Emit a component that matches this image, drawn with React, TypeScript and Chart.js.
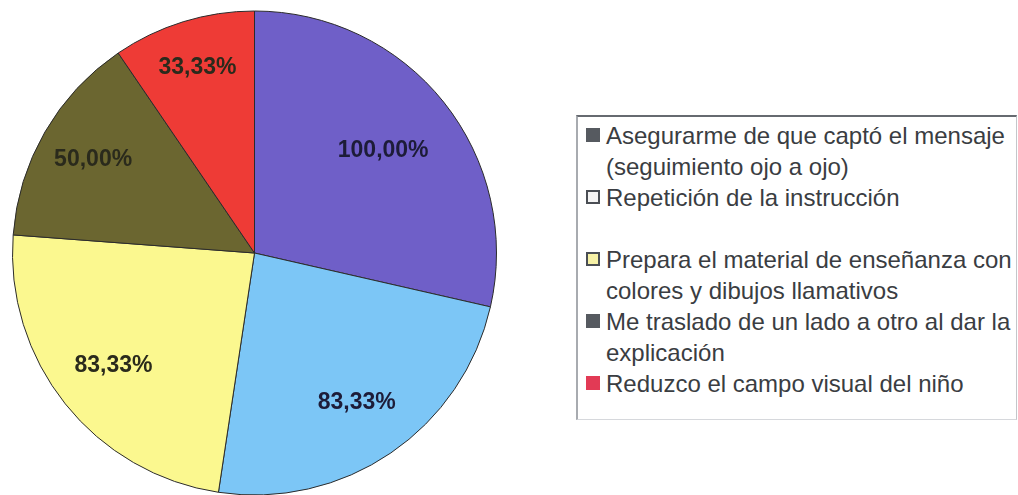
import React, { useEffect, useRef } from "react";
import { Chart, registerables } from "chart.js";

Chart.register(...registerables);

const categories = [
  "Asegurarme de que captó el mensaje (seguimiento ojo a ojo)",
  "Repetición de la instrucción",
  "Prepara el material de enseñanza con colores y dibujos llamativos",
  "Me traslado de un lado a otro al dar la explicación",
  "Reduzco el campo visual del niño",
];
const values = [100, 83.33, 83.33, 50, 33.33];
const sliceColors = ["#6f5fc8", "#7cc6f6", "#fbf88f", "#6b6630", "#ee3b36"];

// legend text lines as they wrap in the reference
const legendLines: string[][] = [
  ["Asegurarme de que captó el mensaje", "(seguimiento ojo a ojo)"],
  ["Repetición de la instrucción", ""],
  ["Prepara el material de enseñanza con", "colores y dibujos llamativos"],
  ["Me traslado de un lado a otro al dar la", "explicación"],
  ["Reduzco el campo visual del niño"],
];
const legendMarkerFill = ["#565a60", "#f4f4f4", "#f6f1a6", "#565a60", "#e23a55"];
const legendMarkerBorder = ["#565a60", "#4a4e54", "#4a4e54", "#565a60", "#e23a55"];

// style: radial placement of each slice's label (fraction of radius)
const labelRadiusFactor = [0.68, 0.75, 0.745, 0.77, 0.8];

const fmt = (v: number) => v.toFixed(2).replace(".", ",") + "%";

const labelPlugin = {
  id: "sliceLabels",
  afterDatasetsDraw(chart: any) {
    const ctx = chart.ctx;
    const meta = chart.getDatasetMeta(0);
    ctx.save();
    ctx.font = "bold 23px 'Liberation Sans', Arial, sans-serif";
    ctx.textAlign = "center";
    ctx.textBaseline = "middle";
    meta.data.forEach((arc: any, i: number) => {
      const { x, y, startAngle, endAngle, outerRadius } = arc.getProps(
        ["x", "y", "startAngle", "endAngle", "outerRadius"],
        true
      );
      const mid = (startAngle + endAngle) / 2;
      const r = outerRadius * labelRadiusFactor[i];
      ctx.fillStyle = i < 2 ? "#1d1c38" : "#2a2a1c";
      ctx.fillText(fmt(values[i]), x + Math.cos(mid) * r, y + Math.sin(mid) * r);
    });
    ctx.restore();
  },
};

export default function App() {
  const ref = useRef<HTMLCanvasElement | null>(null);

  useEffect(() => {
    if (!ref.current) return;
    const chart = new Chart(ref.current, {
      type: "pie",
      data: {
        labels: categories,
        datasets: [
          {
            data: values,
            backgroundColor: sliceColors,
            borderColor: "#2b2b2b",
            borderWidth: 1,
          },
        ],
      },
      options: {
        responsive: false,
        animation: false,
        layout: { padding: { left: 12, top: 10, right: 13, bottom: 14 } },
        plugins: {
          legend: { display: false },
          tooltip: { enabled: false },
        },
      },
      plugins: [labelPlugin],
    });
    return () => chart.destroy();
  }, []);

  return (
    <div
      style={{
        position: "absolute",
        left: 0,
        top: 0,
        width: 1018,
        height: 495,
        overflow: "hidden",
        background: "#ffffff",
      }}
    >
      <canvas
        ref={ref}
        width={510}
        height={510}
        style={{ position: "absolute", left: 0, top: 0, width: 510, height: 510 }}
      />
      <div
        style={{
          position: "absolute",
          left: 576,
          top: 115,
          width: 441,
          height: 305,
          boxSizing: "border-box",
          borderTop: "2px solid #666a70",
          borderLeft: "2px solid #a8abb0",
          borderRight: "1px solid #c4c6ca",
          borderBottom: "1px solid #d6d8dc",
          paddingTop: 2.5,
          fontFamily: "'Liberation Sans', Arial, sans-serif",
          fontSize: 24,
          lineHeight: "31px",
          color: "#3a3d42",
          whiteSpace: "nowrap",
        }}
      >
        {legendLines.map((lines, i) => (
          <div key={i} style={{ position: "relative", paddingLeft: 28 }}>
            <span
              style={{
                position: "absolute",
                left: 8,
                top: 8.5,
                width: 14,
                height: 14,
                boxSizing: "border-box",
                background: legendMarkerFill[i],
                border: `2px solid ${legendMarkerBorder[i]}`,
              }}
            />
            {lines.map((t, j) => (
              <div key={j} style={{ height: 31 }}>
                {t}
              </div>
            ))}
          </div>
        ))}
      </div>
    </div>
  );
}
